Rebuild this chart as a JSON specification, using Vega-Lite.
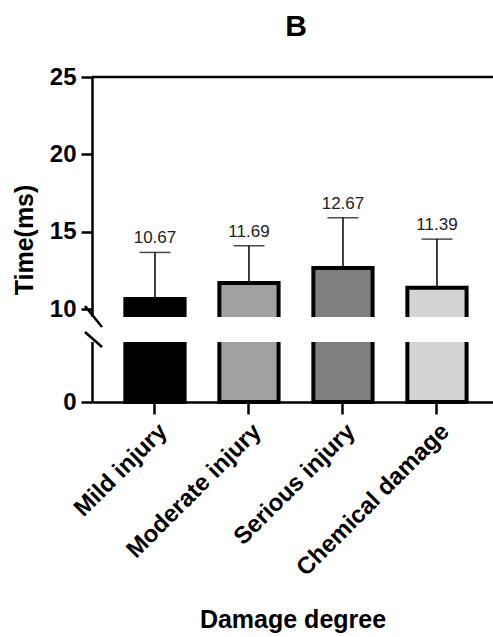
{
  "$schema": "https://vega.github.io/schema/vega-lite/v6.json",
  "width": 401,
  "height": 325,
  "autosize": "none",
  "padding": {"left": 92, "top": 77, "right": 0, "bottom": 235},
  "title": {"text": "B", "fontSize": 30, "font": "Liberation Sans", "fontWeight": "bold", "anchor": "middle", "offset": 23, "dx": 3.5, "color": "#000"},
  "config": {"view": {"stroke": null}, "font": "Liberation Sans"},
  "datasets": {
    "bars": [
      {"degree": "Mild injury", "mean": 10.67, "upper": 13.67, "label": "10.67"},
      {"degree": "Moderate injury", "mean": 11.69, "upper": 14.10, "label": "11.69"},
      {"degree": "Serious injury", "mean": 12.67, "upper": 15.91, "label": "12.67"},
      {"degree": "Chemical damage", "mean": 11.39, "upper": 14.53, "label": "11.39"}
    ],
    "gap": [{"lo": 5.54, "hi": 8.96}],
    "frame": [{"top": 25}],
    "slashes": [
      {"xa": -0.0175, "xb": 0.025, "ya": 10.21, "yb": 7.7},
      {"xa": -0.0175, "xb": 0.025, "ya": 6.8, "yb": 4.58}
    ]
  },
  "resolve": {"scale": {"x": "independent"}, "axis": {"x": "independent"}},
  "layer": [
    {
      "data": {"name": "bars"},
      "layer": [
        {
          "mark": {"type": "bar", "stroke": "#000", "strokeWidth": 4},
          "encoding": {
            "x": {
              "field": "degree", "type": "nominal", "sort": null,
              "scale": {"paddingInner": 0.37, "paddingOuter": 0.318, "align": 0.558},
              "axis": {
                "title": "Damage degree", "labelAngle": -45, "labelFontSize": 24, "labelFontWeight": "bold",
                "labelColor": "#000", "labelLimit": 0, "titleFontSize": 25, "titleFontWeight": "bold", "titleColor": "#000",
                "domainColor": "#000", "domainWidth": 2.5, "tickColor": "#000", "tickWidth": 2.5, "tickSize": 12,
                "labelPadding": 5, "titlePadding": 27
              }
            },
            "y": {
              "field": "mean", "type": "quantitative", "title": "Time(ms)",
              "scale": {"domain": [0, 5, 9.5, 25], "range": [325, 265, 240, 0], "zero": false, "nice": false},
              "axis": {
                "values": [0, 10, 15, 20, 25], "grid": false, "labelFontSize": 24, "labelFontWeight": "bold",
                "labelColor": "#000", "titleFontSize": 25, "titleFontWeight": "bold", "titleColor": "#000",
                "domainColor": "#000", "domainWidth": 2.5, "tickColor": "#000", "tickWidth": 2.5, "tickSize": 11,
                "labelPadding": 5, "titlePadding": 12
              }
            },
            "fill": {
              "field": "degree", "type": "nominal", "sort": null, "legend": null,
              "scale": {"domain": ["Mild injury", "Moderate injury", "Serious injury", "Chemical damage"], "range": ["#000000", "#a0a0a0", "#7f7f7f", "#d3d3d3"]}
            }
          }
        },
        {
          "mark": {"type": "rule", "color": "#000", "strokeWidth": 1.5},
          "encoding": {
            "x": {"field": "degree", "type": "nominal", "sort": null},
            "y": {"field": "mean", "type": "quantitative", "title": "Time(ms)", "scale": {"domain": [0, 5, 9.5, 25], "range": [325, 265, 240, 0], "zero": false, "nice": false}},
            "y2": {"field": "upper"}
          }
        },
        {
          "mark": {"type": "tick", "orient": "horizontal", "color": "#000", "size": 31, "thickness": 1.5},
          "encoding": {
            "x": {"field": "degree", "type": "nominal", "sort": null},
            "y": {"field": "upper", "type": "quantitative", "title": "Time(ms)", "scale": {"domain": [0, 5, 9.5, 25], "range": [325, 265, 240, 0], "zero": false, "nice": false}}
          }
        },
        {
          "mark": {"type": "text", "fontSize": 17, "color": "#222", "baseline": "alphabetic", "dy": -9},
          "encoding": {
            "x": {"field": "degree", "type": "nominal", "sort": null},
            "y": {"field": "upper", "type": "quantitative", "title": "Time(ms)", "scale": {"domain": [0, 5, 9.5, 25], "range": [325, 265, 240, 0], "zero": false, "nice": false}},
            "text": {"field": "label"}
          }
        }
      ]
    },
    {
      "data": {"name": "gap"},
      "mark": {"type": "rect", "fill": "#ffffff", "stroke": "#ffffff", "strokeWidth": 6, "clip": false},
      "encoding": {
        "y": {"field": "lo", "type": "quantitative", "title": "Time(ms)", "scale": {"domain": [0, 5, 9.5, 25], "range": [325, 265, 240, 0], "zero": false, "nice": false}},
        "y2": {"field": "hi"}
      }
    },
    {
      "data": {"name": "frame"},
      "mark": {"type": "rule", "color": "#000", "strokeWidth": 2.5},
      "encoding": {
        "y": {"field": "top", "type": "quantitative", "title": "Time(ms)", "scale": {"domain": [0, 5, 9.5, 25], "range": [325, 265, 240, 0], "zero": false, "nice": false}}
      }
    },
    {
      "data": {"name": "slashes"},
      "mark": {"type": "rule", "color": "#000", "strokeWidth": 2.5, "clip": false},
      "encoding": {
        "x": {"field": "xa", "type": "quantitative", "scale": {"domain": [0, 1], "nice": false, "zero": false}, "axis": null},
        "x2": {"field": "xb"},
        "y": {"field": "ya", "type": "quantitative", "title": "Time(ms)", "scale": {"domain": [0, 5, 9.5, 25], "range": [325, 265, 240, 0], "zero": false, "nice": false}},
        "y2": {"field": "yb"}
      }
    }
  ]
}
